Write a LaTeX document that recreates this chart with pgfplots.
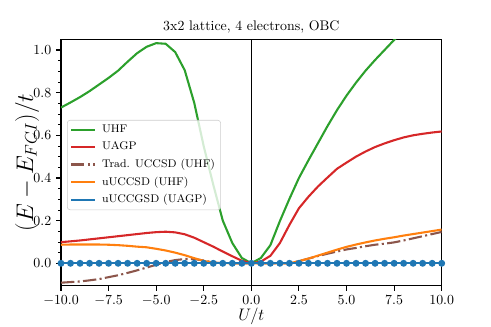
\documentclass[border=0pt]{standalone}
\usepackage{pgfplots}
\pgfplotsset{compat=1.18}

\definecolor{mplgreen}{HTML}{2CA02C}
\definecolor{mplred}{HTML}{D62728}
\definecolor{mplbrown}{HTML}{8C564B}
\definecolor{mplorange}{HTML}{FF7F0E}
\definecolor{mplblue}{HTML}{1F77B4}

\pgfplotstableread{
x     uhf    uagp   trad    uccsd
-10.0 0.730  0.099  -0.091  0.087
-9.5  0.754  0.103  -0.088  0.088
-9.0  0.779  0.107  -0.085  0.088
-8.5  0.807  0.112  -0.080  0.088
-8.0  0.838  0.117  -0.074  0.088
-7.5  0.869  0.122  -0.065  0.087
-7.0  0.903  0.127  -0.056  0.085
-6.5  0.945  0.132  -0.045  0.082
-6.0  0.985  0.137  -0.033  0.078
-5.5  1.015  0.142  -0.020  0.075
-5.0  1.032  0.146  -0.007  0.068
-4.5  1.029  0.148   0.006  0.060
-4.0  0.990  0.145   0.015  0.050
-3.5  0.905  0.136   0.020  0.038
-3.0  0.752  0.120   0.020  0.024
-2.5  0.548  0.099   0.013  0.011
-2.0  0.368  0.078   0.004  0.003
-1.5  0.200  0.055   0.000  0.001
-1.0  0.095  0.033   0.000  0.000
-0.5  0.025  0.012   0.000  0.000
0.0   0.000  0.000   0.000  0.000
0.5   0.025  0.008   0.000  0.000
1.0   0.085  0.035   0.000  0.000
1.5   0.198  0.095   0.000  0.000
2.0   0.302  0.180   0.000  0.000
2.5   0.400  0.258   0.010  0.010
3.0   0.483  0.312   0.022  0.022
3.5   0.563  0.360   0.034  0.036
4.0   0.643  0.402   0.045  0.050
4.5   0.718  0.443   0.055  0.064
5.0   0.786  0.472   0.065  0.077
5.5   0.847  0.500   0.072  0.088
6.0   0.903  0.524   0.080  0.098
6.5   0.953  0.545   0.087  0.107
7.0   1.000  0.562   0.092  0.115
7.5   1.047  0.577   0.098  0.122
8.0   1.092  0.590   0.107  0.130
8.5   1.135  0.600   0.117  0.137
9.0   1.175  0.607   0.127  0.144
9.5   1.213  0.613   0.137  0.151
10.0  1.250  0.618   0.147  0.158
}\datatable

\begin{document}
\begin{tikzpicture}
% page = 491x327 px at 1 px = 0.72 pt, axis box corner at origin
\path[use as bounding box] (-43.92pt,-29.74pt) rectangle (309.6pt,205.7pt);
\begin{axis}[
    scale only axis,
    width=274.1pt, height=177.4pt,
    xmin=-10, xmax=10,
    ymin=-0.105, ymax=1.05,
    xtick={-10,-7.5,-5,-2.5,0,2.5,5,7.5,10},
    ytick={0,0.2,0.4,0.6,0.8,1.0},
    minor y tick num=3,
    xtick pos=bottom, ytick pos=left,
    tick align=outside,
    major tick length=3.5pt, minor tick length=2pt,
    every tick/.style={black, line width=0.8pt},
    minor tick style={line width=0.6pt},
    axis line style={line width=0.8pt},
    xticklabel style={/pgf/number format/.cd, fixed, fixed zerofill, precision=1},
    yticklabel style={/pgf/number format/.cd, fixed, fixed zerofill, precision=1},
    ticklabel style={font=\fontsize{10}{12}\selectfont},
    title={3x2 lattice, 4 electrons, OBC},
    title style={at={(axis description cs:0.5,1)}, anchor=base, font=\fontsize{10}{12}\selectfont},
    xlabel={$U/t$},
    xlabel style={at={(axis description cs:0.5,-0.1228)}, anchor=center, font=\fontsize{12.5}{15}\selectfont},
    ylabel={$(E-E_{FCI})/t$},
    ylabel style={at={(axis description cs:-0.0893,0.5)}, anchor=center, font=\fontsize{16.5}{20}\selectfont},
    legend cell align=left,
    legend style={at={(axis description cs:0.0158,0.6725)}, anchor=north west,
        draw=black!20, fill=white, fill opacity=0.8, text opacity=1,
        rounded corners=2pt, font=\fontsize{8}{10}\selectfont,
        row sep=1.2pt, inner xsep=2pt, inner ysep=1.5pt,
        /tikz/every odd column/.append style={column sep=2.5pt}},
    legend image code/.code={\draw[mark repeat=2, mark phase=2, #1] (0pt,0pt) -- (8.5pt,0pt) -- (17pt,0pt);},
    clip=true,
]
\addplot[black, line width=1pt, forget plot] coordinates {(0,-0.2) (0,1.2)};
\addplot[mplgreen, line width=1.5pt] table[x=x, y=uhf] {\datatable};
\addlegendentry{UHF}
\addplot[mplred, line width=1.5pt] table[x=x, y=uagp] {\datatable};
\addlegendentry{UAGP}
\addplot[mplbrown, line width=1.5pt, dash pattern=on 9.6pt off 2.4pt on 1.5pt off 2.4pt] table[x=x, y=trad] {\datatable};
\addlegendentry{Trad. UCCSD (UHF)}
\addplot[mplorange, line width=1.5pt] table[x=x, y=uccsd] {\datatable};
\addlegendentry{uUCCSD (UHF)}
\addplot[mplblue, line width=1.5pt, mark=*, mark size=1.7pt, mark options={solid, fill=mplblue, draw=mplblue}]
    coordinates {(-10,0) (-9.5,0) (-9,0) (-8.5,0) (-8,0) (-7.5,0) (-7,0) (-6.5,0) (-6,0) (-5.5,0)
    (-5,0) (-4.5,0) (-4,0) (-3.5,0) (-3,0) (-2.5,0) (-2,0) (-1.5,0) (-1,0) (-0.5,0)
    (0,0) (0.5,0) (1,0) (1.5,0) (2,0) (2.5,0) (3,0) (3.5,0) (4,0) (4.5,0)
    (5,0) (5.5,0) (6,0) (6.5,0) (7,0) (7.5,0) (8,0) (8.5,0) (9,0) (9.5,0) (10,0)};
\addlegendentry{uUCCGSD (UAGP)}
\end{axis}
\end{tikzpicture}
\end{document}
